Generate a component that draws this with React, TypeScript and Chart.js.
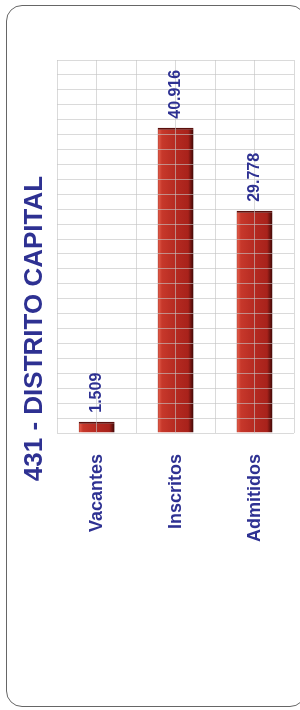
import React, { useEffect, useRef } from 'react';
import { Chart, registerables } from 'chart.js';

Chart.register(...registerables);

const TITLE = '431 - DISTRITO CAPITAL';
const categories = ['Vacantes', 'Inscritos', 'Admitidos'];
const values = [1509, 40916, 29778];
const Y_MAX = 50000;
const Y_STEP = 2000;

const BLUE = '#2e3192';
const FONT = '"Liberation Sans", Arial, Helvetica, sans-serif';
const GRID = 'rgba(196,196,196,0.62)';

const fmt = (v: number) => String(v).replace(/\B(?=(\d{3})+(?!\d))/g, '.');

const BAR_PCT = 0.455;
// each category split in two columns of the background grid
const gridColumns = categories.flatMap((c) => [c + ' a', c + ' b']);

const valueLabels = {
  id: 'valueLabels',
  afterDraw(chart: any) {
    const ctx = chart.ctx;
    const meta = chart.getDatasetMeta(0);
    ctx.save();
    ctx.font = `bold 16px ${FONT}`;
    ctx.fillStyle = BLUE;
    ctx.textAlign = 'left';
    ctx.textBaseline = 'middle';
    meta.data.forEach((bar: any, i: number) => {
      const { x, y } = bar.getProps(['x', 'y'], true);
      ctx.save();
      ctx.translate(x, y - 9);
      ctx.rotate(-Math.PI / 2);
      ctx.fillText(fmt(values[i]), 0, 0);
      ctx.restore();
    });
    ctx.restore();
  },
};

function barFill(c: any) {
  const chart = c.chart;
  const xs = chart.scales?.x;
  if (!xs || c.dataIndex === undefined) return '#b3261f';
  const cx = xs.getPixelForValue(c.dataIndex);
  const w = (xs.width / categories.length) * BAR_PCT;
  if (!isFinite(cx) || !isFinite(w) || w <= 0) return '#b3261f';
  const g = chart.ctx.createLinearGradient(cx - w / 2, 0, cx + w / 2, 0);
  g.addColorStop(0, '#7a1510');
  g.addColorStop(0.03, '#e05a48');
  g.addColorStop(0.12, '#c7382b');
  g.addColorStop(0.5, '#b52a21');
  g.addColorStop(0.85, '#a8221b');
  g.addColorStop(0.93, '#6e1410');
  g.addColorStop(1, '#3e0806');
  return g;
}

export default function App() {
  const ref = useRef<HTMLCanvasElement>(null);

  useEffect(() => {
    if (!ref.current) return;
    const chart = new Chart(ref.current, {
      type: 'bar',
      data: {
        labels: categories,
        datasets: [
          {
            data: values,
            backgroundColor: barFill,
            borderColor: '#5a0f0c',
            borderWidth: { top: 2, left: 0, right: 0, bottom: 0 },
            borderSkipped: 'bottom',
            categoryPercentage: 1,
            barPercentage: BAR_PCT,
          },
        ],
      },
      options: {
        animation: false,
        responsive: false,
        maintainAspectRatio: false,
        devicePixelRatio: 1,
        layout: { padding: { left: 19, right: 6, top: 60, bottom: 3 } },
        plugins: {
          legend: { display: false },
          tooltip: { enabled: false },
          title: {
            display: true,
            text: TITLE,
            position: 'left',
            color: BLUE,
            font: { size: 26, weight: 'bold', family: FONT },
            padding: { top: 0, bottom: 7 },
          },
        },
        scales: {
          x: {
            type: 'category',
            offset: true,
            grid: { display: false, drawTicks: false },
            border: { display: false },
            ticks: {
              color: BLUE,
              font: { size: 18, weight: 'bold', family: FONT },
              maxRotation: 90,
              minRotation: 90,
              padding: 21,
            },
            afterFit: (s: any) => {
              s.height = 164;
            },
          },
          x2: {
            type: 'category',
            labels: gridColumns,
            position: 'top',
            offset: true,
            ticks: { display: false, autoSkip: false },
            grid: { color: GRID, drawTicks: false, lineWidth: 1, z: 1, offset: true },
            border: { display: false },
          },
          y: {
            min: 0,
            max: Y_MAX,
            ticks: { display: false, stepSize: Y_STEP },
            grid: { color: GRID, drawTicks: false, lineWidth: 1, z: 1 },
            border: { display: false },
          },
        },
      },
      plugins: [valueLabels],
    });
    return () => chart.destroy();
  }, []);

  return (
    <div style={{ position: 'absolute', left: 0, top: 0, width: 300, height: 710, overflow: 'hidden', background: '#fff' }}>
      <div
        style={{
          position: 'absolute',
          left: 6,
          top: 5,
          width: 300,
          height: 702,
          border: '1.5px solid #666',
          borderRadius: 16,
          boxSizing: 'border-box',
        }}
      />
      <canvas ref={ref} width={300} height={600} style={{ position: 'absolute', left: 0, top: 0, width: 300, height: 600 }} />
    </div>
  );
}
